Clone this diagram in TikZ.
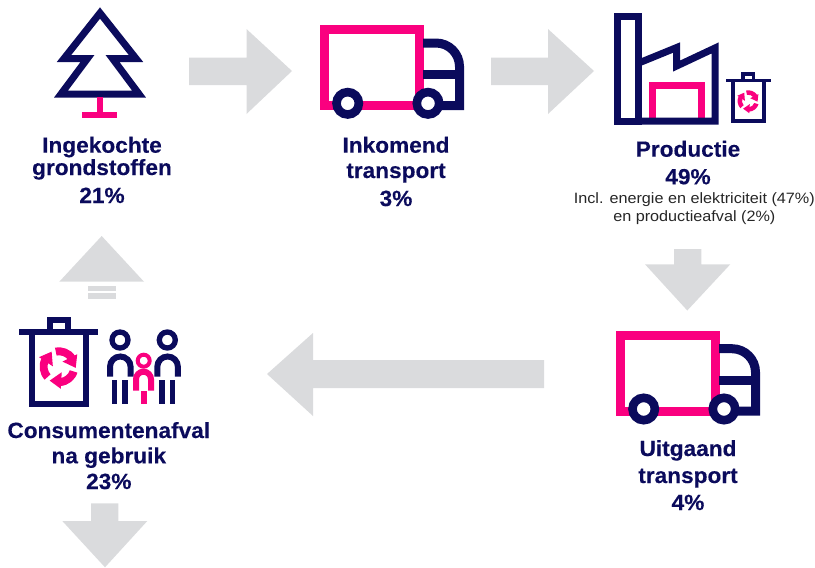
\documentclass[tikz,border=0pt]{standalone}
\usepackage{fontspec}
\setmainfont{Liberation Sans}
\newfontfamily\lblfont[FakeStretch=1.03,FakeBold=0.25]{Liberation Sans Bold}
\newfontfamily\smallfont[FakeStretch=1.08]{Liberation Sans}
\definecolor{navy}{HTML}{0B0B5C}
\definecolor{hot}{HTML}{FA007F}
\definecolor{arrowgrey}{HTML}{DADBDD}
\tikzset{
  nv/.style={draw=navy,line width=#1,miter limit=10},
  pk/.style={draw=hot,line width=#1,miter limit=10},
  greyarrow/.style={fill=arrowgrey,draw=none},
  lbl/.style={anchor=base,text=navy,inner sep=0pt,font=\lblfont\fontsize{22}{24}\selectfont},
  small/.style={anchor=base,text=black!85,inner sep=0pt,font=\smallfont\fontsize{15}{16}\selectfont},
  pics/truck/.style={code={
    \draw[pk=9] (4.5,4.5) rectangle (99,80.5);
    \draw[nv=9] (103,18) -- (116,18) arc[start angle=-90,end angle=0,radius=23.5] -- (139.5,80.5) -- (118,80.5);
    \draw[nv=9] (103,49.5) -- (139.5,49.5);
    \draw[nv=8.6,fill=white] (27.7,78.3) circle[radius=11.2];
    \draw[nv=8.6,fill=white] (108,78.3) circle[radius=11.2];
  }},
  pics/recycle/.style={code={
    \foreach \a in {0,120,240}{
      \begin{scope}[rotate=\a]
        \fill[hot] (-102:1.02) arc[start angle=-102,end angle=-35,radius=1.02]
          -- (-35:0.6) arc[start angle=-35,end angle=-102,radius=0.6] -- cycle;
        \fill[hot] (0.96,-0.66) -- (0.18,-0.27) -- (0.88,0.06) -- cycle;
      \end{scope}
    }
  }},
}
\begin{document}
\begin{tikzpicture}[x=1pt,y=-1pt]
\useasboundingbox (0,0) rectangle (815,568);
% grey arrows
\fill[greyarrow] (189,57.5) -- (246.5,57.5) -- (246.5,29) -- (292,71) -- (246.5,114) -- (246.5,85) -- (189,85) -- cycle;
\fill[greyarrow] (491,57.5) -- (548,57.5) -- (548,29) -- (594,71) -- (548,114) -- (548,85) -- (491,85) -- cycle;
\fill[greyarrow] (674,249) -- (701.3,249) -- (701.3,264.3) -- (730.3,264.3) -- (687.3,310.5) -- (645,264.3) -- (674,264.3) -- cycle;
\fill[greyarrow] (544,360) -- (544,388) -- (313,388) -- (313,416) -- (267,374) -- (313,333) -- (313,360) -- cycle;
\fill[greyarrow] (101.7,236) -- (144,281.7) -- (59.3,281.7) -- cycle;
\fill[greyarrow] (88,285.7) rectangle (115.7,291);
\fill[greyarrow] (88,293.3) rectangle (115.7,298.7);
\fill[greyarrow] (91,503.3) -- (118.3,503.3) -- (118.3,521) -- (147.3,521) -- (105,567.3) -- (62.3,521) -- (91,521) -- cycle;
% tree
\draw[nv=7] (100,13) -- (136,58.5) -- (112.5,58.5) -- (139,94) -- (61,94) -- (87.5,58.5) -- (64,58.5) -- cycle;
\fill[hot] (96.7,97) rectangle (103.3,112);
\fill[hot] (82.3,111.7) rectangle (117.3,118.3);
% trucks
\pic at (320,25) {truck};
\pic at (616,330.7) {truck};
% factory
\draw[nv=7] (617.5,16) rectangle (638,121);
\draw[pk=6.8] (652.3,117.5) -- (652.3,85.7) -- (701.7,85.7) -- (701.7,117.5);
\draw[nv=7] (638,63.3) -- (676.7,47.5) -- (676.7,66) -- (715,48) -- (715,121) -- (638,121);
% small bin
\draw[nv=3.6] (726,80.5) -- (770.7,80.5);
\draw[nv=3.6] (742.8,78.7) |- (753.5,73.8) -- (753.5,78.7);
\draw[nv=3.6] (732.7,82) -- (732.7,121) -- (764,121) -- (764,82);
\pic[scale=10.5] at (748.3,101) {recycle};
% large bin
\draw[nv=6] (19.3,331.7) -- (98,331.7);
\draw[nv=6] (49.7,328.7) |- (67.7,319.7) -- (67.7,328.7);
\draw[nv=6] (31.7,334) -- (31.7,403.7) -- (86,403.7) -- (86,334);
\pic[scale=19] at (59,366.7) {recycle};
% people
\foreach \dx in {0,47.3}{
  \begin{scope}[xshift=\dx pt]
    \draw[nv=5.3] (120,340) circle[radius=8];
    \draw[nv=6] (110,376.7) -- (110,366.8) arc[start angle=180,end angle=360,radius=10.3] -- (130.6,376.7);
    \fill[navy] (112,380) rectangle (117.3,404);
    \fill[navy] (122.3,380) rectangle (128,404);
  \end{scope}
}
\draw[pk=4] (143.7,360.7) circle[radius=6];
\draw[pk=6] (136,390.7) -- (136,379.2) arc[start angle=180,end angle=360,radius=7.5] -- (151,390.7);
\fill[hot] (141.3,390.7) rectangle (146.7,404);
% labels
\node[lbl] (a1) at (102,152.7) {Ingekochte};
\node[lbl] (a2) at (102,175) {grondstoffen};
\node[lbl] (a3) at (102,203) {21\%};
\node[lbl] (b1) at (396,152.7) {Inkomend};
\node[lbl] (b2) at (396,178) {transport};
\node[lbl] (b3) at (396,206) {3\%};
\node[lbl] (c1) at (688,156.7) {Productie};
\node[lbl] (c2) at (688,184.3) {49\%};
\node[small] (c3) at (694.3,203.3) {Incl. energie en elektriciteit (47\%)};
\node[small] (c4) at (694.3,221.7) {en productieafval (2\%)};
\node[lbl] (d1) at (688,456) {Uitgaand};
\node[lbl] (d2) at (688,483) {transport};
\node[lbl] (d3) at (688,510) {4\%};
\node[lbl] (e1) at (108.8,438) {Consumentenafval};
\node[lbl] (e2) at (108.8,463.3) {na gebruik};
\node[lbl] (e3) at (108.8,489) {23\%};
\end{tikzpicture}
\end{document}
